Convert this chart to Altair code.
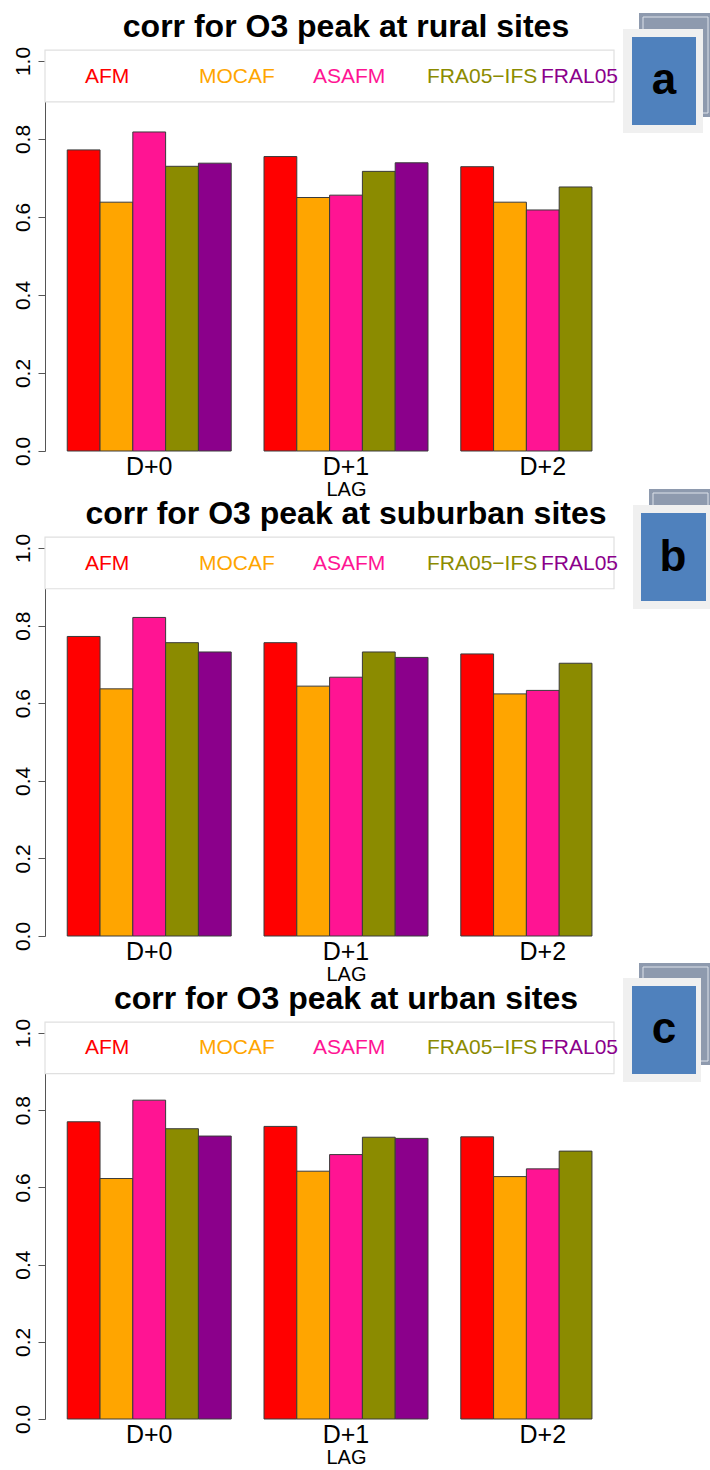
import altair as alt
import pandas as pd

FONT = "Liberation Sans"

# Categories
lags = ["D+0", "D+1", "D+2"]
models = ["AFM", "MOCAF", "ASAFM", "FRA05−IFS", "FRAL05"]
colors = ["#FF0000", "#FFA500", "#FF1493", "#8B8B00", "#8B008B"]

# Correlation of O3 peak per model, one list per lag (None = no forecast)
rural_d0 = [0.772, 0.638, 0.818, 0.730, 0.738]
rural_d1 = [0.755, 0.650, 0.656, 0.717, 0.739]
rural_d2 = [0.729, 0.638, 0.618, 0.677, None]

suburban_d0 = [0.772, 0.637, 0.821, 0.756, 0.732]
suburban_d1 = [0.756, 0.644, 0.667, 0.732, 0.718]
suburban_d2 = [0.727, 0.624, 0.633, 0.703, None]

urban_d0 = [0.770, 0.623, 0.826, 0.752, 0.733]
urban_d1 = [0.758, 0.642, 0.685, 0.730, 0.727]
urban_d2 = [0.731, 0.628, 0.648, 0.694, None]

y_ticks = [0.0, 0.2, 0.4, 0.6, 0.8, 1.0]

PLOT_W = 602
LEFT = 45
TOP = 61
GAP = 97


def one_row(text):
    return pd.DataFrame({"t": [text]})


def panel(title, letter, series, height, deco, page_anchor=False):
    rows = []
    for lag, vals in zip(lags, series):
        for m, v in zip(models, vals):
            if v is not None:
                rows.append({"lag": lag, "model": m, "value": v})
    df = pd.DataFrame(rows)

    bars = alt.Chart(df).mark_bar(stroke="#3a3a3a", strokeWidth=1).encode(
        x=alt.X(
            "lag:N",
            sort=lags,
            scale=alt.Scale(domain=lags, paddingInner=1 / 6, paddingOuter=0.113),
            axis=alt.Axis(
                title="LAG", domain=False, ticks=False, labelAngle=0,
                labelFontSize=25, labelPadding=3, labelColor="black", labelFont=FONT,
                titleFontSize=20, titleFontWeight="normal", titlePadding=0,
                titleColor="black", titleFont=FONT,
            ),
        ),
        xOffset=alt.XOffset(
            "model:N", sort=models,
            scale=alt.Scale(domain=models, paddingInner=0, paddingOuter=0),
        ),
        y=alt.Y(
            "value:Q",
            scale=alt.Scale(domain=[0, 1], nice=False),
            axis=alt.Axis(
                title=None, values=y_ticks, format=".1f", grid=False,
                labelAngle=270, labelAlign="center", labelBaseline="bottom",
                labelFontSize=21, labelPadding=5, labelColor="black", labelFont=FONT,
                tickSize=7, tickColor="#555555", domainColor="#555555",
            ),
        ),
        color=alt.Color("model:N", scale=alt.Scale(domain=models, range=colors), legend=None),
    )

    layers = []
    if page_anchor:
        # transparent frame that pins the page extent
        layers.append(
            alt.Chart(one_row("")).mark_rect(fillOpacity=0, strokeOpacity=0).encode(
                x=alt.value(-LEFT), x2=alt.value(710 - LEFT),
                y=alt.value(-TOP), y2=alt.value(1470 - TOP),
            )
        )

    layers.append(bars)

    # legend frame and coloured model names
    layers.append(
        alt.Chart(one_row("")).mark_rect(fill="white", stroke="#e0e0e0", strokeWidth=1.2).encode(
            x=alt.value(0), x2=alt.value(569),
            y=alt.datum(1.028), y2=alt.datum(0.895),
        )
    )
    for i, (m, c) in enumerate(zip(models, colors)):
        layers.append(
            alt.Chart(one_row(m)).mark_text(
                align="left", baseline="middle", fontSize=21, font=FONT, color=c
            ).encode(x=alt.value(40 + i * 114), y=alt.datum(0.96), text="t:N")
        )

    # panel heading
    layers.append(
        alt.Chart(one_row(title)).mark_text(
            align="center", baseline="alphabetic", fontSize=32, fontWeight="bold",
            font=FONT, color="black",
        ).encode(x=alt.value(PLOT_W / 2), y=alt.value(-24), text="t:N")
    )

    # letter tag: slate card behind, light frame, blue card, letter
    g, f, b, lc = deco["gray"], deco["frame"], deco["blue"], deco["letter"]
    layers.append(
        alt.Chart(one_row("")).mark_rect(fill="#8E9AAE").encode(
            x=alt.value(g[0]), x2=alt.value(g[2]), y=alt.value(g[1]), y2=alt.value(g[3])
        )
    )
    layers.append(
        alt.Chart(one_row("")).mark_rect(fill=None, stroke="#dde2ea", strokeWidth=1).encode(
            x=alt.value(g[0] + 4), x2=alt.value(g[2] - 2), y=alt.value(g[1] + 4), y2=alt.value(g[3] - 4)
        )
    )
    layers.append(
        alt.Chart(one_row("")).mark_rect(fill="#F0F0F0").encode(
            x=alt.value(f[0]), x2=alt.value(f[2]), y=alt.value(f[1]), y2=alt.value(f[3])
        )
    )
    layers.append(
        alt.Chart(one_row("")).mark_rect(fill="#4F81BD").encode(
            x=alt.value(b[0]), x2=alt.value(b[2]), y=alt.value(b[1]), y2=alt.value(b[3])
        )
    )
    layers.append(
        alt.Chart(one_row(letter)).mark_text(
            align="center", baseline="middle", fontSize=44, fontWeight="bold",
            font=FONT, color="black",
        ).encode(x=alt.value(lc[0]), y=alt.value(lc[1]), text="t:N")
    )

    return alt.layer(*layers).properties(width=PLOT_W, height=height)


deco_a = {"gray": (594, -48, 665, 56), "frame": (578, -32, 658, 72),
          "blue": (587, -24, 651, 64), "letter": (619, 20)}
deco_b = {"gray": (604, -59, 665, 49), "frame": (588, -43, 665, 61),
          "blue": (596, -35, 661, 53), "letter": (628, 10)}
deco_c = {"gray": (594, -70, 665, 32), "frame": (578, -55, 656, 49),
          "blue": (587, -47, 651, 41), "letter": (619, -3)}

pa = panel("corr for O3 peak at rural sites", "a",
           [rural_d0, rural_d1, rural_d2], 390, deco_a, page_anchor=True)
pb = panel("corr for O3 peak at suburban sites", "b",
           [suburban_d0, suburban_d1, suburban_d2], 388, deco_b)
pc = panel("corr for O3 peak at urban sites", "c",
           [urban_d0, urban_d1, urban_d2], 386, deco_c)

chart = alt.vconcat(pa, pb, pc, spacing=GAP, bounds="flush").properties(
    padding=0, background="white"
).configure_view(stroke=None)

chart.save("out.html", embed_options={"renderer": "svg", "actions": False})
